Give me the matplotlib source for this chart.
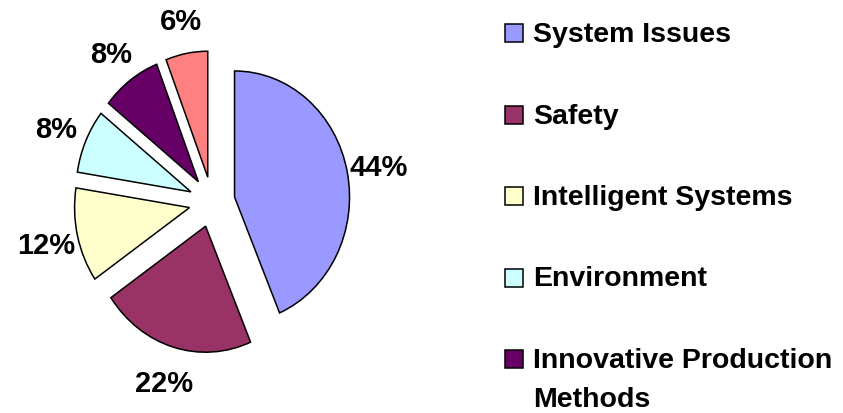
import matplotlib
matplotlib.use('Agg')
import matplotlib.pyplot as plt
from matplotlib.patches import Rectangle

# data (shares,
# labels round them to 44/22/12/8/8/6 %)
categories = ['System Issues', 'Safety', 'Intelligent Systems', 'Environment',
              'Innovative Production\nMethods', 'Other']
shares = [43.6, 21.8, 12.1, 8.2, 8.4, 5.9]
colors = ['#9999FF', '#993366', '#FFFFCC', '#CCFFFF', '#660066', '#FF8080']

W, H = 843, 413
fig = plt.figure(figsize=(W / 100, H / 100), dpi=100)
plt.rcParams['font.family'] = ['Liberation Sans', 'DejaVu Sans']

ax = fig.add_axes([0, 0, 1, 1])
wedges, texts, autotexts = ax.pie(
    shares, colors=colors, startangle=90, counterclock=False,
    explode=[0.2] * len(shares), radius=1.0,
    wedgeprops=dict(edgecolor='black', linewidth=1.1),
    autopct=lambda p: '%d%%' % round(p), pctdistance=1.28)
for t in autotexts:
    t.set_fontsize(21)
    t.set_fontweight('bold')
    t.set_color('black')
    t.set_verticalalignment('center_baseline')

# pie in the old spreadsheet is a bit taller than wide
cx, cy = 212, 202          # pixel centre (from top)
px_x, px_y = 115, 126      # pixels per unit radius
ax.set_aspect('auto')
ax.set_xlim(-cx / px_x, (W - cx) / px_x)
ax.set_ylim(-(H - cy) / px_y, cy / px_y)
ax.axis('off')

# legend, drawn by hand (last entry falls off the picture)
row_y = 33
step = 81.5
for i in range(5):
    yc = row_y + i * step
    fig.patches.append(Rectangle((505 / W, 1 - (yc + 9) / H), 18 / W, 18 / H,
                                 transform=fig.transFigure, facecolor=colors[i],
                                 edgecolor='black', linewidth=1.1))
    fig.text(533 / W, 1 - (yc - 11) / H, categories[i], fontsize=20.5,
             fontweight='bold', va='top', ha='left', linespacing=1.63)

fig.savefig('out.png', dpi=100)
